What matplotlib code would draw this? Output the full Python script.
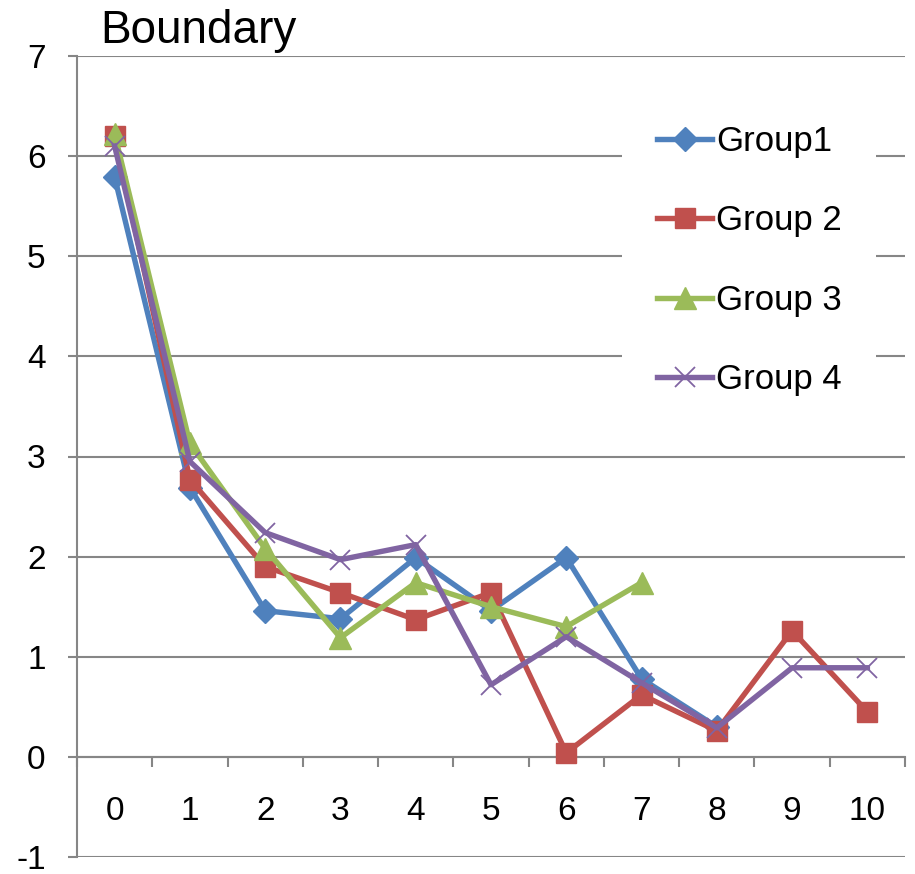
import numpy as np
import matplotlib.pyplot as plt

plt.rcParams['font.family'] = ['Liberation Sans', 'DejaVu Sans']
plt.rcParams['axes.unicode_minus'] = False

categories = list(range(11))
group1 = [5.79, 2.69, 1.46, 1.38, 1.99, 1.46, 1.99, 0.78, 0.30]
group2 = [6.20, 2.77, 1.90, 1.64, 1.37, 1.64, 0.04, 0.62, 0.26, 1.26, 0.45]
group3 = [6.22, 3.13, 2.08, 1.19, 1.74, 1.50, 1.30, 1.74]
group4 = [6.10, 2.95, 2.24, 1.97, 2.12, 0.72, 1.20, 0.74, 0.29, 0.89, 0.89]
labels = ['Group1', 'Group 2', 'Group 3', 'Group 4']

grid_c = '#868686'

fig = plt.figure(figsize=(9.15, 8.74), dpi=100)
ax = fig.add_axes([77/915, 1-857/874, (905-77)/915, (857-56)/874])

ax.plot(categories[:len(group1)], group1, color='#4F81BD', lw=3.9, marker='D', ms=12,
        label=labels[0], zorder=3)
ax.plot(categories[:len(group2)], group2, color='#C0504D', lw=3.9, marker='s', ms=14,
        label=labels[1], zorder=4)
ax.plot(categories[:len(group3)], group3, color='#9BBB59', lw=3.9, marker='^', ms=16,
        label=labels[2], zorder=5)
ax.plot(categories[:len(group4)], group4, color='#8064A2', lw=3.9, marker='x', ms=15,
        mew=1.3, label=labels[3], zorder=6)

ax.set_xlim(-0.5, 10.5)
ax.set_ylim(-1, 7)
ax.set_yticks(np.arange(-1, 8))
ax.yaxis.grid(True, color=grid_c, lw=1.5)
ax.set_axisbelow(True)

for s in ['top', 'right']:
    ax.spines[s].set_visible(False)
ax.spines['left'].set_color(grid_c)
ax.spines['left'].set_linewidth(1.5)
ax.spines['bottom'].set_position(('data', 0))
ax.spines['bottom'].set_color(grid_c)
ax.spines['bottom'].set_linewidth(1.5)

ax.set_xticks(categories)
ax.set_xticklabels([str(c) for c in categories])
ax.set_xticks(np.arange(-0.5, 11, 1), minor=True)
ax.tick_params(axis='x', which='major', length=0, pad=28, labelsize=24)
ax.tick_params(axis='x', which='minor', length=7, width=1.5, color=grid_c, direction='out')
ax.tick_params(axis='y', length=6.5, width=1.5, color=grid_c, pad=16, labelsize=24)

fig.text(100/915, 1-43/874, 'Boundary', fontsize=33, va='baseline', ha='left')

leg = ax.legend(loc='upper left', bbox_to_anchor=(622/915, 1-90/874),
                bbox_transform=fig.transFigure, fontsize=25, frameon=True,
                facecolor='white', edgecolor='none', framealpha=1, fancybox=False,
                handlelength=1.6, handletextpad=0.1, labelspacing=1.34,
                borderpad=1.0, borderaxespad=0, numpoints=1)

fig.savefig('out.png', dpi=100)
